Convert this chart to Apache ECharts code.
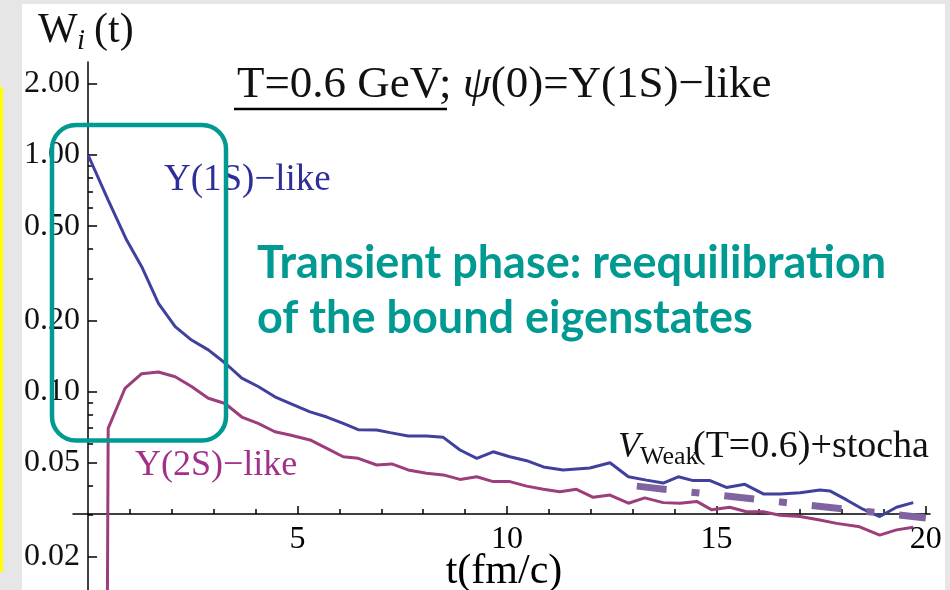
<!DOCTYPE html>
<html><head><meta charset="utf-8">
<script src="https://cdn.jsdelivr.net/npm/echarts@6/dist/echarts.min.js"></script>
<style>
html,body{margin:0;padding:0;background:#e6e6e6;}
#wrap{position:relative;width:950px;height:590px;overflow:hidden;background:#e6e6e6;}
#white{position:absolute;left:22px;top:4px;width:923px;height:586px;background:#fff;}
#yellow{position:absolute;left:0;top:87px;width:3px;height:485px;background:#ffff00;}
#chart{position:absolute;left:0;top:0;width:950px;height:590px;}
</style></head>
<body><div id="wrap"><div id="white"></div><div id="yellow"></div><div id="chart"></div></div>
<script>
// ---- data ----
const t1S = [0, 0.48, 0.92, 1.28, 1.68, 2.08, 2.47, 2.87, 3.27, 3.67, 4.06, 4.46, 4.82, 5.30, 5.70, 6.09, 6.45, 6.89, 7.21, 7.64, 8.08, 8.48, 8.88, 9.28, 9.67, 10.07, 10.47, 10.87, 11.34, 11.98, 12.46, 12.90, 13.33, 13.73, 14.09, 14.45, 14.85, 15.24, 15.68, 16.12, 16.52, 17.0, 17.47, 17.71, 18.11, 18.5, 18.9, 19.3, 19.7];
const w1S = [1.00, 0.645, 0.437, 0.337, 0.236, 0.188, 0.165, 0.150, 0.132, 0.114, 0.105, 0.095, 0.089, 0.082, 0.078, 0.0733, 0.069, 0.0688, 0.067, 0.0648, 0.0648, 0.064, 0.0566, 0.0522, 0.0556, 0.053, 0.051, 0.048, 0.0466, 0.0475, 0.050, 0.0436, 0.0422, 0.041, 0.0436, 0.042, 0.042, 0.0393, 0.0405, 0.0369, 0.0369, 0.0373, 0.0383, 0.038, 0.0348, 0.0318, 0.0296, 0.0324, 0.0339];
const t2S = [0.45, 0.48, 0.88, 1.28, 1.68, 2.08, 2.47, 2.87, 3.27, 3.67, 4.06, 4.46, 4.82, 5.30, 5.70, 6.09, 6.45, 6.89, 7.25, 7.64, 8.08, 8.48, 8.88, 9.28, 9.67, 10.07, 10.47, 10.87, 11.26, 11.66, 12.06, 12.46, 12.90, 13.29, 13.73, 14.13, 14.53, 14.89, 15.32, 15.72, 16.12, 16.52, 17.0, 17.47, 17.87, 18.42, 18.9, 19.3, 19.7];
const w2S = [0.005, 0.0699, 0.103, 0.119, 0.121, 0.1155, 0.105, 0.0936, 0.089, 0.078, 0.0733, 0.0676, 0.0655, 0.0624, 0.0575, 0.053, 0.0522, 0.0489, 0.0494, 0.0466, 0.0451, 0.0444, 0.0425, 0.0436, 0.0416, 0.0416, 0.0398, 0.0386, 0.0377, 0.0386, 0.0357, 0.0365, 0.0337, 0.0355, 0.0339, 0.0337, 0.0343, 0.0316, 0.0324, 0.031, 0.031, 0.030, 0.0296, 0.0286, 0.0277, 0.0268, 0.0247, 0.026, 0.0267];
const tWeak = [13.1, 20.0];
const wWeak = [0.0398, 0.0292];
const xMajorTicks = [5, 10, 15, 20];
const xMinorTicks = [1, 2, 3, 4, 6, 7, 8, 9, 11, 12, 13, 14, 16, 17, 18, 19];
const yMajorTicks = [0.02, 0.05, 0.1, 0.2, 0.5, 1, 2];
const yMinorTicks = [0.03, 0.04, 0.06, 0.07, 0.08, 0.09, 0.3, 0.4, 0.6, 0.7, 0.8, 0.9];
const xRange = [-0.36, 20.1];
const yRange = [0.01448, 2.473];
const xTitle = 't(fm/c)';

const SERIF = "'Liberation Serif', 'Times New Roman', serif";
const SANS_BOLD = "bold 45px Lato, 'Open Sans', sans-serif";
const zip = (a, b) => a.map((v, i) => [v, b[i]]);
const chart = echarts.init(document.getElementById('chart'), null, {renderer: 'canvas'});

const baseX = {
  type: 'value', min: xRange[0], max: xRange[1], position: 'bottom', offset: -76,
  splitLine: {show: false}
};
const baseY = {
  type: 'log', min: yRange[0], max: yRange[1], position: 'left',
  splitLine: {show: false}
};
const axisStroke = {color: '#000', width: 1.5};

chart.setOption({
  animation: false,
  backgroundColor: 'transparent',
  grid: {left: 73, right: 20, top: 62, bottom: 0, outerBoundsMode: 'none', containLabel: false},
  xAxis: [
    Object.assign({}, baseX, {
      axisLine: {onZero: false, lineStyle: axisStroke},
      axisTick: {inside: true, length: 8, customValues: xMajorTicks, lineStyle: axisStroke},
      axisLabel: {customValues: xMajorTicks, fontFamily: SERIF, fontSize: 32, color: '#000', margin: 10}
    }),
    Object.assign({}, baseX, {
      axisLine: {show: false, onZero: false},
      axisTick: {inside: true, length: 5, customValues: xMinorTicks, lineStyle: axisStroke},
      axisLabel: {show: false}
    })
  ],
  yAxis: [
    Object.assign({}, baseY, {
      axisLine: {onZero: true, onZeroAxisIndex: 0, lineStyle: axisStroke},
      axisTick: {inside: true, length: 9, customValues: yMajorTicks, lineStyle: axisStroke},
      axisLabel: {customValues: yMajorTicks, formatter: v => Number(v).toFixed(2),
        fontFamily: SERIF, fontSize: 32, color: '#111', margin: -7, padding: [14, 0, 0, 0]}
    }),
    Object.assign({}, baseY, {
      axisLine: {show: false, onZero: true, onZeroAxisIndex: 0},
      axisTick: {inside: true, length: 5, customValues: yMinorTicks, lineStyle: axisStroke},
      axisLabel: {show: false}
    })
  ],
  series: [
    {type: 'line', name: '1S', data: zip(t1S, w1S), showSymbol: false, smooth: false,
     lineStyle: {color: '#40409e', width: 3}, z: 3},
    {type: 'line', name: '2S', data: zip(t2S, w2S), showSymbol: false, smooth: false,
     lineStyle: {color: '#9c3d7c', width: 3}, z: 3},
    {type: 'line', name: 'weak', data: zip(tWeak, wWeak), showSymbol: false,
     lineStyle: {color: '#8064a2', width: 7, type: [30, 25, 8, 25], cap: 'butt'}, z: 4}
  ],
  graphic: [
    {type: 'text', x: 504, y: 551, style: {text: xTitle, font: "42px " + SERIF, fill: '#000', align: 'center', verticalAlign: 'top'}},
    {type: 'text', left: 38, top: 10, style: {text: 'W', font: "42px " + SERIF, fill: '#111'}},
    {type: 'text', left: 77, top: 27, style: {text: 'i', font: "italic 29px " + SERIF, fill: '#111'}},
    {type: 'text', left: 94, top: 10, style: {text: '(t)', font: "42px " + SERIF, fill: '#111'}},
    {type: 'text', left: 237, top: 63, style: {
      text: '{a|T=0.6 GeV; }{b|ψ}{a|(0)=Υ(1S)−like}',
      rich: {a: {font: "45px " + SERIF, fill: '#111'}, b: {font: "italic 45px " + SERIF, fill: '#111'}}}},
    {type: 'line', shape: {x1: 234, y1: 109, x2: 447, y2: 109}, style: {stroke: '#000', lineWidth: 2.5}},
    {type: 'text', left: 164, top: 162, style: {text: 'Υ(1S)−like', font: "37px " + SERIF, fill: '#2e2e9a'}},
    {type: 'text', left: 135, top: 448, style: {text: 'Υ(2S)−like', font: "36px " + SERIF, fill: '#a0308a'}},
    {type: 'text', left: 618, top: 430, style: {text: 'V', font: "italic 36px " + SERIF, fill: '#111'}},
    {type: 'text', left: 640, top: 444, style: {text: 'Weak', font: "26px " + SERIF, fill: '#111'}},
    {type: 'text', left: 693, top: 428, style: {text: '(T=0.6)+stocha', font: "38px " + SERIF, fill: '#111'}},
    {type: 'rect', shape: {x: 52, y: 125, width: 174, height: 315.5, r: 24},
     style: {fill: 'none', stroke: '#009a93', lineWidth: 4.5}, z: 10},
    {type: 'text', left: 257, top: 241, style: {text: 'Transient phase: reequilibration',
      font: SANS_BOLD, fill: '#009a93'}},
    {type: 'text', left: 257, top: 296, style: {text: 'of the bound eigenstates',
      font: SANS_BOLD, fill: '#009a93'}}
  ]
});
</script></body></html>
